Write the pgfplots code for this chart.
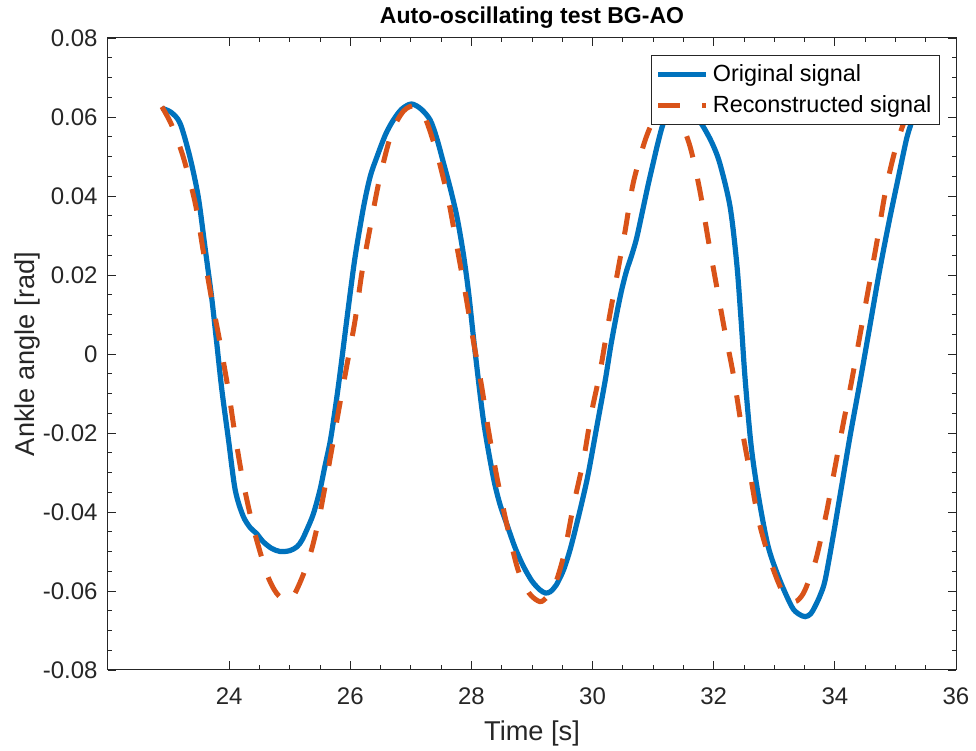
\documentclass[border=0pt]{standalone}
\usepackage{fontspec}
\setmainfont{Liberation Sans}
\usepackage{pgfplots}
\pgfplotsset{compat=1.18}
\definecolor{mblue}{RGB}{0,114,189}
\definecolor{morange}{RGB}{217,83,25}
\definecolor{axgray}{RGB}{38,38,38}
\begin{document}
\begin{tikzpicture}
\begin{axis}[
  scale only axis, width=424pt, height=316pt,
  xmin=22, xmax=36, ymin=-0.08, ymax=0.08,
  scaled x ticks=false, scaled y ticks=false,
  xtick={24,26,28,30,32,34,36},
  xticklabels={24,26,28,30,32,34,36},
  ytick={-0.08,-0.06,-0.04,-0.02,0,0.02,0.04,0.06,0.08},
  yticklabels={-0.08,-0.06,-0.04,-0.02,0,0.02,0.04,0.06,0.08},
  minor x tick num=3, minor y tick num=3,
  tick align=inside,
  major tick length=4.25pt, minor tick length=2.25pt,
  axis line style={axgray, line width=0.5pt},
  every tick/.style={axgray, line width=0.4pt},
  tick label style={font=\fontsize{12}{14}\selectfont, text=axgray},
  xticklabel style={anchor=base, yshift=-17.5pt, inner sep=0pt},
  yticklabel style={anchor=east, inner sep=0pt, xshift=-5pt},
  title={Auto-oscillating test BG-AO},
  title style={at={(axis description cs:0.5,1.0222)}, anchor=base, yshift=-6pt, font=\bfseries\fontsize{11.5}{13}\selectfont, inner sep=0pt},
  xlabel={Time [s]},
  xlabel style={at={(axis description cs:0.5,-0.1108)}, anchor=base, font=\fontsize{13.6}{16}\selectfont, text=axgray, inner sep=0pt},
  ylabel={Ankle angle [rad]},
  ylabel style={at={(axis description cs:-0.0861,0.5)}, anchor=base, font=\fontsize{13.6}{16}\selectfont, text=axgray, inner sep=0pt},
  legend style={at={(axis description cs:0.981,0.973)}, anchor=north east, draw=axgray, line width=0.5pt, fill=white,
    font=\fontsize{11.7}{14}\selectfont, inner xsep=2pt, inner ysep=2.5pt, row sep=1.5pt, cells={anchor=west}},
  legend image code/.code={\draw[#1] (0pt,0pt) -- (24pt,0pt);},
]
\addplot[mblue, line width=2.6pt, smooth] coordinates {
(22.89,0.0622) (23.04,0.0612) (23.19,0.0584) (23.35,0.0500) (23.49,0.0398) (23.60,0.0272)
(23.71,0.0145) (23.79,0.0035) (23.88,-0.0091) (23.99,-0.0218) (24.10,-0.0344) (24.23,-0.0410)
(24.35,-0.0440) (24.45,-0.0454) (24.56,-0.0475) (24.70,-0.0492) (24.84,-0.0500) (25.00,-0.0498)
(25.12,-0.0488) (25.20,-0.0472) (25.28,-0.0446) (25.39,-0.0405) (25.50,-0.0344) (25.58,-0.0285)
(25.67,-0.0220) (25.75,-0.0140) (25.83,-0.0050) (25.97,0.0120) (26.08,0.0246) (26.22,0.0373)
(26.33,0.0450) (26.44,0.0499) (26.58,0.0555) (26.71,0.0592) (26.85,0.0620) (27.01,0.0633)
(27.17,0.0620) (27.32,0.0592) (27.43,0.0545) (27.54,0.0483) (27.65,0.0420) (27.76,0.0348)
(27.86,0.0260) (27.95,0.0160) (28.05,0.0020) (28.20,-0.0170) (28.36,-0.0311) (28.47,-0.0380)
(28.58,-0.0429) (28.72,-0.0490) (28.86,-0.0538) (29.00,-0.0575) (29.13,-0.0597) (29.22,-0.0605)
(29.30,-0.0602) (29.40,-0.0585) (29.52,-0.0547) (29.63,-0.0495) (29.74,-0.0429) (29.84,-0.0365)
(29.93,-0.0302) (30.07,-0.0184) (30.21,-0.0066) (30.30,0.0020) (30.40,0.0103) (30.48,0.0162)
(30.56,0.0210) (30.65,0.0252) (30.73,0.0295) (30.84,0.0373) (30.92,0.0430) (31.00,0.0483)
(31.08,0.0535) (31.17,0.0585) (31.30,0.0625) (31.45,0.0640) (31.60,0.0628) (31.72,0.0600)
(31.83,0.0575) (31.97,0.0535) (32.10,0.0483) (32.27,0.0373) (32.38,0.0230) (32.45,0.0090)
(32.52,-0.0066) (32.62,-0.0235) (32.74,-0.0361) (32.90,-0.0488) (33.09,-0.0572) (33.29,-0.0640)
(33.40,-0.0658) (33.51,-0.0665) (33.60,-0.0658) (33.67,-0.0640) (33.76,-0.0610) (33.84,-0.0572)
(33.97,-0.0463) (34.11,-0.0336) (34.25,-0.0209) (34.41,-0.0075) (34.56,0.0055) (34.73,0.0204)
(34.89,0.0331) (35.04,0.0441) (35.18,0.0542) (35.26,0.0584) (35.35,0.0630)
};
\addlegendentry{Original signal}
\addplot[morange, line width=2.5pt, dash pattern=on 11pt off 11pt, smooth] coordinates {
(22.89,0.0626) (23.05,0.0580) (23.24,0.0500) (23.44,0.0382) (23.57,0.0263) (23.71,0.0140)
(23.85,0.0028) (23.99,-0.0095) (24.10,-0.0207) (24.23,-0.0323) (24.40,-0.0440) (24.62,-0.0555)
(24.78,-0.0605) (24.95,-0.0627) (25.05,-0.0615) (25.14,-0.0589) (25.25,-0.0548) (25.36,-0.0496)
(25.45,-0.0440) (25.53,-0.0380) (25.67,-0.0262) (25.80,-0.0150) (25.94,-0.0032) (26.08,0.0086)
(26.19,0.0204) (26.33,0.0322) (26.48,0.0441) (26.68,0.0559) (26.88,0.0615) (27.07,0.0628)
(27.23,0.0600) (27.43,0.0508) (27.62,0.0390) (27.76,0.0272) (27.90,0.0154) (28.03,0.0035)
(28.17,-0.0083) (28.28,-0.0192) (28.42,-0.0311) (28.58,-0.0429) (28.77,-0.0547) (28.95,-0.0605)
(29.13,-0.0627) (29.25,-0.0615) (29.35,-0.0597) (29.52,-0.0513) (29.68,-0.0387) (29.85,-0.0268)
(29.98,-0.0150) (30.12,-0.0048) (30.26,0.0078) (30.40,0.0196) (30.54,0.0314) (30.67,0.0432)
(30.87,0.0542) (31.05,0.0605) (31.23,0.0628) (31.42,0.0600) (31.61,0.0525) (31.77,0.0415)
(31.91,0.0289) (32.05,0.0170) (32.19,0.0052) (32.32,-0.0049) (32.46,-0.0184) (32.60,-0.0302)
(32.74,-0.0420) (32.93,-0.0522) (33.15,-0.0606) (33.34,-0.0627) (33.48,-0.0606) (33.60,-0.0560)
(33.70,-0.0513) (33.86,-0.0403) (34.00,-0.0289) (34.14,-0.0175) (34.28,-0.0066) (34.42,0.0052)
(34.56,0.0170) (34.70,0.0289) (34.84,0.0415) (35.01,0.0525) (35.18,0.0600) (35.35,0.0628)
};
\addlegendentry{Reconstructed signal}
\coordinate (sw) at (rel axis cs:0,0);
\coordinate (ne) at (rel axis cs:1,1);
\end{axis}
\pgfresetboundingbox
\path ([shift={(-54pt,-40.5pt)}]sw) rectangle ([shift={(10pt,19pt)}]ne);
\end{tikzpicture}
\end{document}
